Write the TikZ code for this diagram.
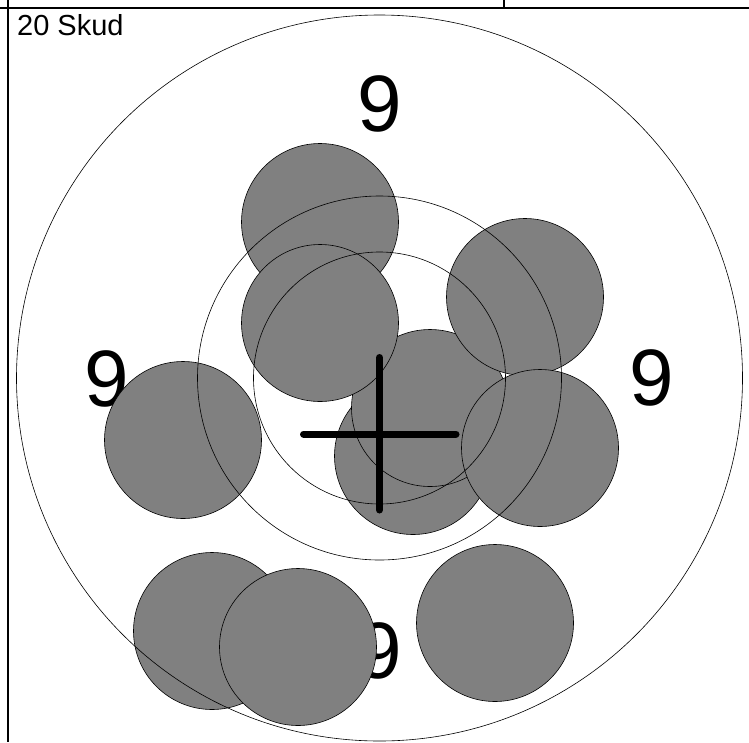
\documentclass[tikz,border=0pt]{standalone}
\usepackage{fontspec}
\setmainfont{Liberation Sans}
\usepackage{tikz}

\begin{document}
\begin{tikzpicture}[
  x=1pt, y=-1pt,
  shot/.style={circle, draw, line width=0.6pt, fill=gray, minimum size=157pt, inner sep=0pt},
  ring/.style={circle, draw, line width=0.6pt, inner sep=0pt},
  score/.style={inner sep=0pt, font=\fontsize{80}{90}\selectfont},
  frameline/.style={line width=1.4pt},
  aim/.style={line width=7pt, line cap=round},
]
\useasboundingbox (0,0) rectangle (749,742);

\draw[frameline] (0,8) -- (749,8);
\draw[frameline] (8,0) -- (8,742);
\draw[frameline] (504,0) -- (504,8);

\node[anchor=base west, inner sep=0pt, font=\fontsize{29}{33}\selectfont] (title) at (17,35) {20 Skud};

\node[score] (s9top) at (380,104) {9};
\node[score] (s9left) at (107,379) {9};
\node[score] (s9right) at (652,378) {9};
\node[score] (s9bottom) at (380,651) {9};

\node[shot] (h1) at (320,222) {};
\node[shot] (h5) at (413,456) {};
\node[shot] (h4) at (430,408) {};
\node[shot] (h2) at (320,323) {};
\node[shot] (h3) at (525,297) {};
\node[shot] (h6) at (540,448) {};
\node[shot] (h7) at (183,440) {};
\node[shot] (h8) at (212,631) {};
\node[shot] (h9) at (298,647) {};
\node[shot] (h10) at (495,623) {};

\node[ring, minimum size=252pt] (inner) at (379.5,378) {};
\node[ring, minimum size=364pt] (middle) at (379.5,378) {};
\node[ring, minimum size=726pt] (outer) at (379.5,378) {};

\coordinate (cl) at (303.5,434);
\coordinate (cr) at (456,434);
\coordinate (ct) at (379.5,357.5);
\coordinate (cb) at (379.5,510);
\draw[aim] (cl) -- (cr);
\draw[aim] (ct) -- (cb);

\end{tikzpicture}
\end{document}
